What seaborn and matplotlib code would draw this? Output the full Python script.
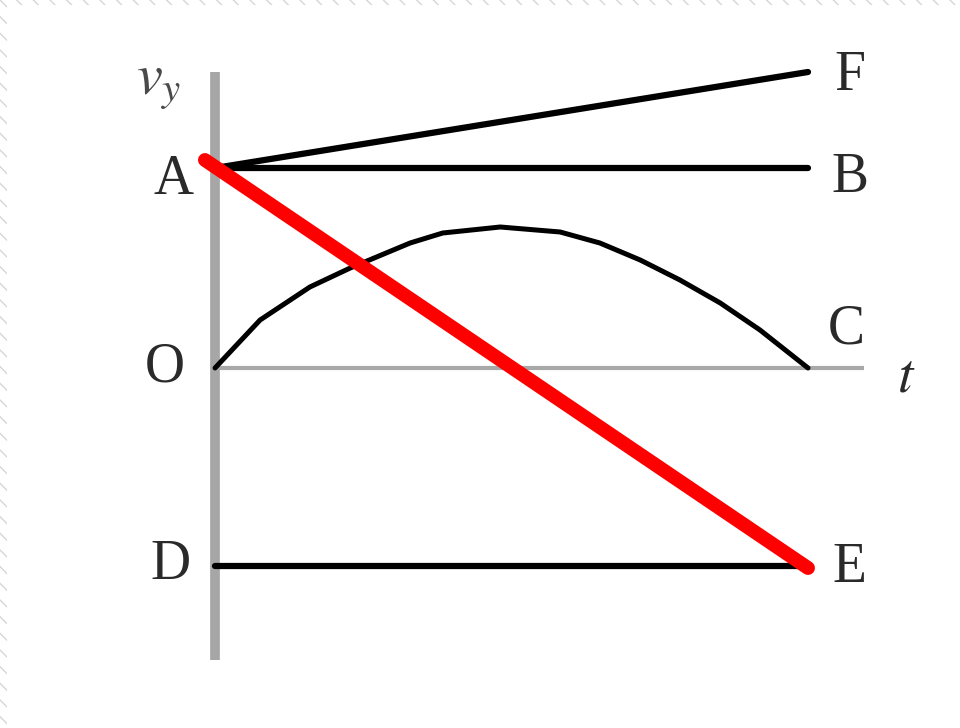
import matplotlib
matplotlib.use("Agg")
import matplotlib.pyplot as plt
import matplotlib.patches as mpatches
import pandas as pd
import seaborn as sns

sns.set_theme(style="white")
plt.rcParams['font.family'] = ['Liberation Serif', 'DejaVu Serif']
plt.rcParams['mathtext.fontset'] = 'stix'

# graphs of v_y against t (t: 0..1, v_y: A = 1)
line_F_t = [0.0, 1.0]
line_F_v = [1.0, 1.48]
line_B_t = [0.0, 1.0]
line_B_v = [1.0, 1.0]
curve_C_t = [0.0, 0.076, 0.160, 0.228, 0.329, 0.384, 0.481, 0.582, 0.649, 0.717, 0.784, 0.852, 0.919, 1.0]
curve_C_v = [0.0, 0.24, 0.405, 0.50, 0.625, 0.675, 0.705, 0.68, 0.625, 0.54, 0.44, 0.325, 0.19, 0.0]
line_D_t = [0.0, 1.0]
line_D_v = [-0.99, -0.99]
red_t = [-0.017, 1.0]
red_v = [1.04, -1.0]

fig = plt.figure(figsize=(9.6, 7.28), dpi=100)
ax = fig.add_axes([0, 0, 1, 1])

# axes of the diagram
ax.plot([0, 0], [-1.46, 1.48], color="#a6a6a6", lw=7, solid_capstyle="butt", zorder=1)
ax.plot([0, 1.095], [0, 0], color="#a8a8a8", lw=3, solid_capstyle="butt", zorder=1)

def draw(t, v, color, lw, z):
    df = pd.DataFrame({"t": t, "v": v})
    sns.lineplot(data=df, x="t", y="v", ax=ax, color=color, lw=lw,
                 sort=False, estimator=None, zorder=z,
                 solid_joinstyle="round")

draw(line_F_t, line_F_v, "black", 4.5, 2)
draw(line_B_t, line_B_v, "black", 4.5, 2)
draw(curve_C_t, curve_C_v, "black", 3.6, 2)
draw(line_D_t, line_D_v, "black", 4.5, 2)
draw(red_t, red_v, "#ff0000", 10, 3)
ax.set_xlim(-0.3626, 1.2563)
ax.set_ylim(-1.8, 1.84)
ax.axis("off")

fs = 40
tc = "#2a2a2a"
ax.text(-0.07, 0.94, "A", fontsize=fs, color=tc, ha="center", va="center")
ax.text(1.07, 0.95, "B", fontsize=fs, color=tc, ha="center", va="center")
ax.text(1.07, 1.46, "F", fontsize=fs, color=tc, ha="center", va="center")
ax.text(-0.085, 0.0, "O", fontsize=fs, color=tc, ha="center", va="center")
ax.text(1.065, 0.19, "C", fontsize=fs, color=tc, ha="center", va="center")
ax.text(1.165, -0.05, "$t$", fontsize=fs, color=tc, ha="center", va="center")
ax.text(-0.095, 1.41, "$v_y$", fontsize=42, color="#4a4a4a", ha="center", va="center")
ax.text(-0.075, -0.985, "D", fontsize=fs, color=tc, ha="center", va="center")
ax.text(1.07, -1.0, "E", fontsize=fs, color=tc, ha="center", va="center")

# hatched frame at left and top edges
for rect in [(0, 0, 0.007, 1), (0, 0.993, 1, 0.007)]:
    fig.add_artist(mpatches.Rectangle(rect[:2], rect[2], rect[3], transform=fig.transFigure,
                                      facecolor="white", edgecolor="#d6d6d6", lw=0,
                                      hatch="\\\\", zorder=10))

fig.savefig("out.png", dpi=100)
